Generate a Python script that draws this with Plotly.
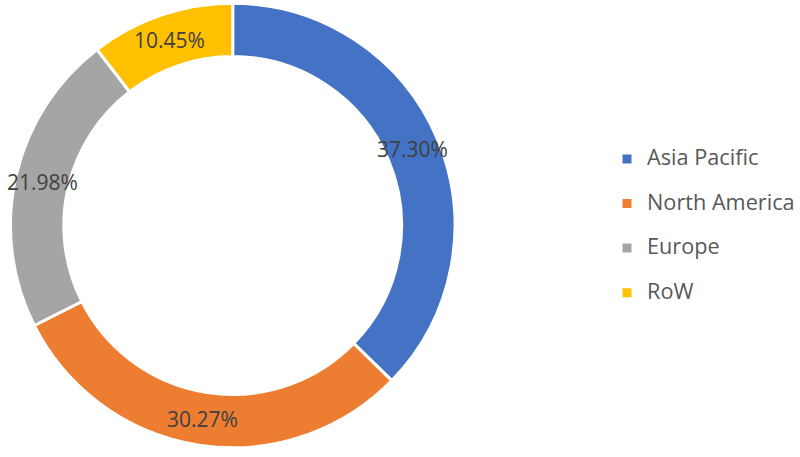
import math
import plotly.graph_objects as go

regions = ["Asia Pacific", "North America", "Europe", "RoW"]
shares = [37.30, 30.27, 21.98, 10.45]
colors = ["#4472C4", "#ED7D31", "#A5A5A5", "#FFC000"]
labels_text = [f"{v:.2f}%" for v in shares]

W, H = 800, 457
HOLE = 0.76
DOM_X = [0.0131, 0.5694]
DOM_Y = [0.0197, 0.9934]

fig = go.Figure(go.Pie(
    labels=[f"<span style='font-size:21.7px'>{r}</span><br> " for r in regions],
    values=shares,
    textinfo="none",
    hole=HOLE,
    sort=False,
    direction="clockwise",
    rotation=0,
    marker=dict(colors=colors, line=dict(color="white", width=3)),
    domain=dict(x=DOM_X, y=DOM_Y),
    hoverinfo="skip",
))

# data labels at the middle of each ring segment (derived from the values)
wpx = (DOM_X[1] - DOM_X[0]) * W
hpx = (DOM_Y[1] - DOM_Y[0]) * H
r = min(wpx, hpx) / 2
cx = (DOM_X[0] + DOM_X[1]) / 2
cy = (DOM_Y[0] + DOM_Y[1]) / 2
rmid = r * (1 + HOLE) / 2
total = sum(shares)
cum = 0.0
for v, t in zip(shares, labels_text):
    mid = (cum + v / 2) / total * 2 * math.pi
    cum += v
    fig.add_annotation(
        x=cx + rmid * math.sin(mid) / W,
        y=cy + rmid * math.cos(mid) / H,
        xref="paper", yref="paper",
        text=t, showarrow=False,
        font=dict(family="Open Sans", size=21, color="#404040"),
        xanchor="center", yanchor="middle",
    )

fig.update_layout(
    width=W, height=H,
    margin=dict(l=0, r=0, t=0, b=0),
    paper_bgcolor="white",
    plot_bgcolor="white",
    legend=dict(
        x=0.76, y=0.4825, xanchor="left", yanchor="middle",
        font=dict(family="Open Sans", size=16, color="#595959"),
        valign="top",
        itemwidth=30,
    ),
)

fig.write_html("out.html", config={"displayModeBar": False},
               post_script="document.body.style.margin='0';")
